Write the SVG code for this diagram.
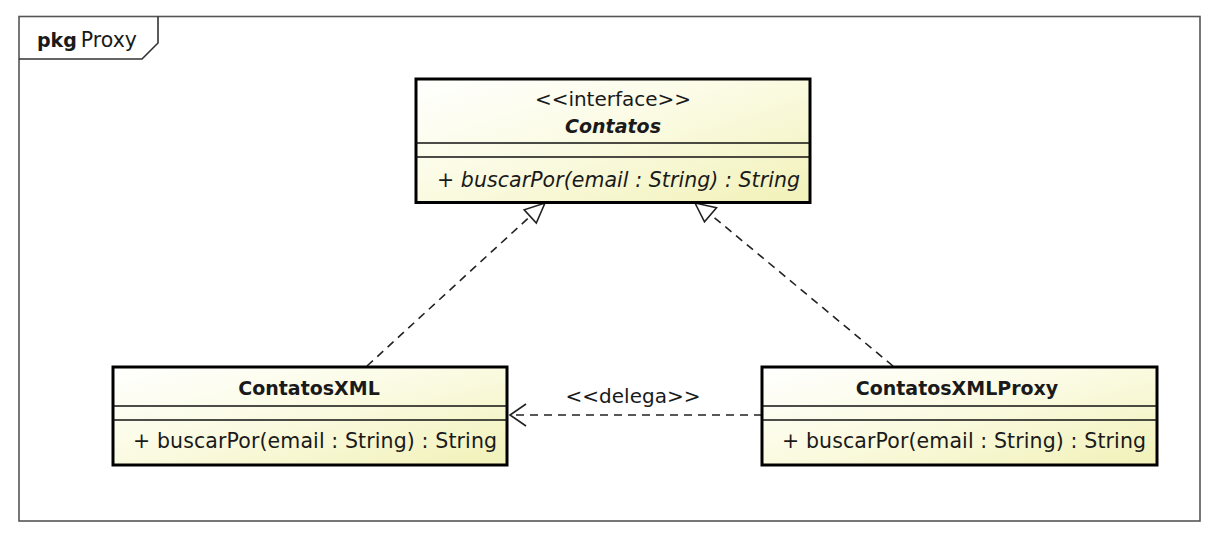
<svg xmlns="http://www.w3.org/2000/svg" width="1218" height="536" viewBox="0 0 1218 536">
  <defs>
    <linearGradient id="fill" x1="0" y1="0" x2="1" y2="1">
      <stop offset="0" stop-color="#ffffff"/>
      <stop offset="0.45" stop-color="#fbfbe4"/>
      <stop offset="1" stop-color="#f1f1b8"/>
    </linearGradient>
    <marker id="open" viewBox="-20 -13 22 26" refX="0" refY="0" markerWidth="22" markerHeight="26" markerUnits="userSpaceOnUse" orient="auto">
      <path d="M-16,-11 L0,0 L-16,11" fill="none" stroke="#222" stroke-width="1.6"/>
    </marker>
  </defs>
  <style>
    text { font-family: "DejaVu Sans", "Liberation Sans", sans-serif; fill: #1a1a1a; }
    .box { fill: url(#fill); stroke: #000; stroke-width: 3; }
    .div { stroke: #111; stroke-width: 1.5; }
    .title { font-size: 19px; font-weight: bold; }
    .reg { font-size: 20px; }
    .meth { font-size: 20.5px; }
    .dash { fill: none; stroke: #222; stroke-width: 1.6; stroke-dasharray: 8 6; }
    .tri { fill: #fff; stroke: #222; stroke-width: 1.6; }
  </style>
  <rect width="1218" height="536" fill="#ffffff"/>

  <g id="frame">
    <rect x="19" y="16.5" width="1181" height="504.5" fill="none" stroke="#555" stroke-width="1.6"/>
    <path d="M19,59 L142,59 L158,43 L158,16.5" fill="none" stroke="#333" stroke-width="1.6"/>
    <text x="37" y="47"><tspan font-weight="bold" font-size="19">pkg</tspan><tspan font-size="20.5" dx="4">Proxy</tspan></text>
  </g>

  <g id="connectors">
    <line class="dash" x1="367" y1="366" x2="530" y2="216.5"/>
    <polygon class="tri" points="545,203 536.3,223.1 524.2,209.8"/>
    <line class="dash" x1="893" y1="366" x2="710" y2="214"/>
    <polygon class="tri" points="695,203 716.5,207.8 704.5,221.8"/>
    <line class="dash" x1="762" y1="415" x2="510" y2="415" marker-end="url(#open)"/>
    <text class="reg" x="633" y="403" text-anchor="middle">&lt;&lt;delega&gt;&gt;</text>
  </g>

  <g id="Contatos">
    <rect class="box" x="416" y="79" width="394" height="123.5"/>
    <line class="div" x1="416" y1="143" x2="810" y2="143"/>
    <line class="div" x1="416" y1="157" x2="810" y2="157"/>
    <text class="reg" x="613" y="106" text-anchor="middle">&lt;&lt;interface&gt;&gt;</text>
    <text class="title" x="613" y="133" text-anchor="middle" font-style="italic">Contatos</text>
    <text class="meth" x="437" y="187" font-style="italic" textLength="363">+ buscarPor(email : String) : String</text>
  </g>

  <g id="ContatosXML">
    <rect class="box" x="113" y="367" width="394" height="98"/>
    <line class="div" x1="113" y1="406" x2="507" y2="406"/>
    <line class="div" x1="113" y1="420" x2="507" y2="420"/>
    <text class="title" x="309" y="395" text-anchor="middle">ContatosXML</text>
    <text class="meth" x="133" y="448" textLength="364">+ buscarPor(email : String) : String</text>
  </g>

  <g id="ContatosXMLProxy">
    <rect class="box" x="762" y="367" width="395" height="98"/>
    <line class="div" x1="762" y1="406" x2="1157" y2="406"/>
    <line class="div" x1="762" y1="420" x2="1157" y2="420"/>
    <text class="title" x="957" y="395" text-anchor="middle">ContatosXMLProxy</text>
    <text class="meth" x="782" y="448" textLength="364">+ buscarPor(email : String) : String</text>
  </g>
</svg>
